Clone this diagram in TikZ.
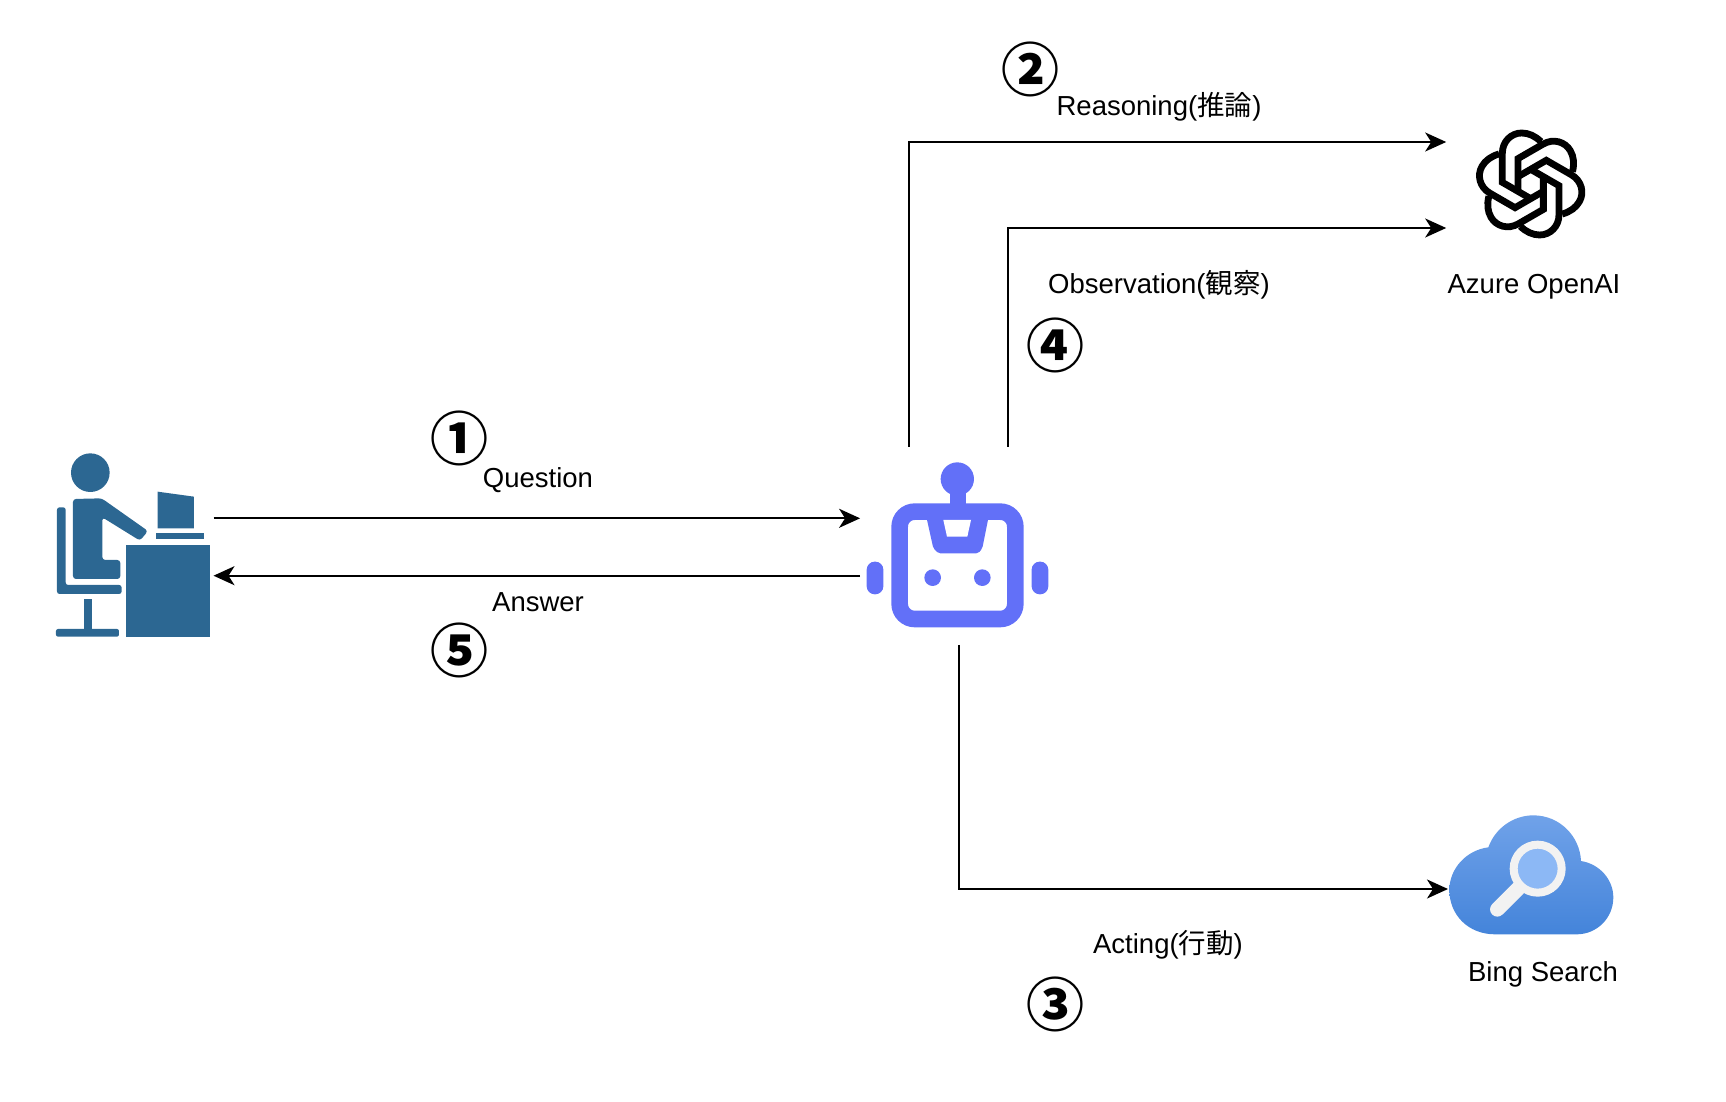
\documentclass[tikz,border=0pt]{standalone}
\usepackage{fontspec}
\setmainfont{Liberation Sans}
\newfontfamily\cjk{Noto Sans CJK JP}
\usetikzlibrary{arrows.meta}
\definecolor{usercol}{HTML}{2C6792}
\definecolor{agentcol}{HTML}{6270F8}
\definecolor{cloudtop}{HTML}{70A2E9}
\definecolor{cloudbot}{HTML}{4484DA}
\definecolor{lenscol}{HTML}{8CB8F5}
\definecolor{glasscol}{HTML}{F2F2F2}
\tikzset{
	x=1pt,y=-1pt,
	iconbox/.style={inner sep=0pt,outer sep=0pt,draw=none},
	lbl/.style={inner sep=0pt,font=\fontsize{27.5}{33}\selectfont},
	num/.style={inner sep=0pt,font=\cjk\bfseries\fontsize{58}{62}\selectfont},
	flow/.style={line width=2pt,-{Stealth[length=21pt,width=19pt,inset=6pt]}}
}
\begin{document}
\begin{tikzpicture}
		\useasboundingbox (0,0) rectangle (1726,1102);
		\node [iconbox,minimum width=157pt,minimum height=120pt] (user) at (135,545.7) {};
		\node [iconbox,minimum width=197pt,minimum height=198.4pt] (agent) at (958.6,545.7) {};
		\node [iconbox,minimum width=169pt,minimum height=100pt] (openai) at (1530.7,185) {};
		\node [iconbox,minimum width=166pt,minimum height=120pt] (bing) at (1531,889) {};
		\begin{scope}[shift={(30,430)},scale=0.3333,fill=usercol]
			\fill (181,128) circle (58);
			\fill [rounded corners=3pt] (129,447) -- (129,207) -- (215,205) -- (354,303) -- (330,332) -- (217,262) -- (217,390) -- (271,390) -- (271,447) -- cycle;
			\fill [rounded corners=2.5pt] (81,232) -- (107,232) -- (107,465) -- (275,465) -- (275,492) -- (81,492) -- cycle;
			\fill (161,508) rectangle (185,600);
			\fill [rounded corners=2pt] (78,597) rectangle (267,620);
			\fill (383,185) -- (492,200) -- (492,295) -- (383,295) -- cycle;
			\fill (379,310) rectangle (522,328);
			\fill (288,346) rectangle (540,620);
		\end{scope}
		\begin{scope}[shift={(850,440)},scale=0.3333,fill=agentcol]
			\fill (322,117) circle (50);
			\fill (300,140) rectangle (347,200);
			\draw [agentcol,line width=16.6pt,rounded corners=15pt] (149,215) rectangle (496,537);
			\fill [rounded corners=2pt] (230,235) -- (250,325) -- (265,340) -- (385,340) -- (397,325) -- (415,235) -- cycle;
			\fill [white] (280,240) -- (363,240) -- (352,290) -- (291,290) -- cycle;
			\foreach \X in {248,397} {
				\fill (\X,413) circle (25);
			}
			\foreach \X in {50,545} {
				\fill [rounded corners=8pt] (\X,365) rectangle (\X+50,463);
			}
		\end{scope}
		\begin{scope}[shift={(1440,110)},scale=0.3333]
			\foreach \X in {0,60,...,300} {
				\draw [black,line width=6.8pt,rotate around={\X:(272,222)}] (272,266) -- (187,217) -- (187,130) .. controls (187,94) and (214,69) .. (245,69) .. controls (266,69) and (285,78) .. (303,95);
			}
		\end{scope}
		\begin{scope}[shift={(1440,800)},scale=0.3333]
			\shade [top color=cloudtop,bottom color=cloudbot] (165,403) .. controls (85,403) and (28,345) .. (28,270) .. controls (28,205) and (80,150) .. (145,142) .. controls (165,85) and (220,46) .. (280,46) .. controls (360,46) and (420,110) .. (423,183) .. controls (480,192) and (520,240) .. (520,292) .. controls (520,355) and (470,403) .. (410,403) -- cycle;
			\draw [glasscol,line width=14.6pt,line cap=round] (235,265) -- (172,328);
			\draw [glasscol,line width=8pt,fill=lenscol] (293,206) circle (72);
		\end{scope}
		\draw [flow] ([yshift=27.4pt]user.east) -- ([yshift=27.4pt]agent.west);
		\draw [flow] ([yshift=-30pt]agent.west) -- ([yshift=-30pt]user.east);
		\draw [flow] ([xshift=-49.6pt]agent.north) |- ([yshift=43pt]openai.west);
		\draw [flow] ([xshift=49.4pt]agent.north) |- ([yshift=-43pt]openai.west);
		\draw [flow] (agent.south) |- (bing.west);
		\node [num] (n1) at (459.5,438.5) {①};
		\node [num] (n2) at (1030,69) {②};
		\node [num] (n3) at (1055,1004) {③};
		\node [num] (n4) at (1055,345.5) {④};
		\node [num] (n5) at (459.5,650.5) {⑤};
		\node [lbl] (question) at (538,480.5) {Question};
		\node [lbl] (answer) at (538,602) {Answer};
		\node [lbl] (reasoning) at (1159,106.5) {Reasoning({\cjk 推論})};
		\node [lbl] (observation) at (1159,285) {Observation({\cjk 観察})};
		\node [lbl] (acting) at (1168,945) {Acting({\cjk 行動})};
		\node [lbl] (openailabel) at (1534,287) {Azure OpenAI};
		\node [lbl] (binglabel) at (1543,974) {Bing Search};
	\end{tikzpicture}
\end{document}
